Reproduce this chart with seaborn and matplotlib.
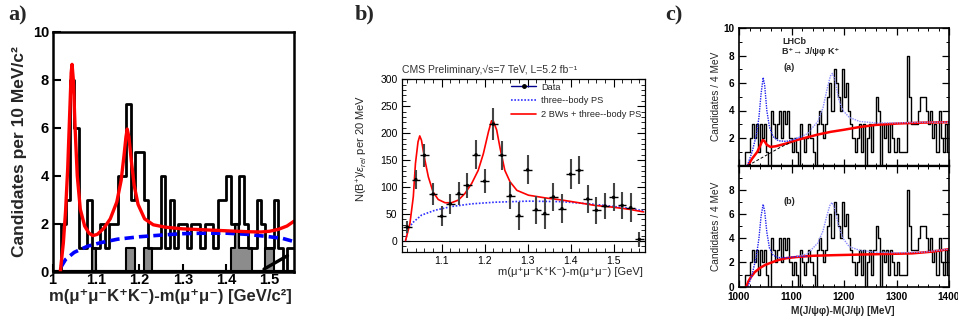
import numpy as np
import matplotlib
matplotlib.use("Agg")
import matplotlib.pyplot as plt
from matplotlib.lines import Line2D
from matplotlib.ticker import MultipleLocator
import seaborn as sns

# ---------------- data: panel a (CDF) ----------------
a_edges = [round(1.00 + 0.01 * i, 2) for i in range(57)]          # 1.00 .. 1.56 GeV
a_total = [0, 0,
           2, 3, 8, 6, 1, 1, 3, 1, 1, 2,
           1, 2, 2, 4, 4, 7, 3, 5, 5, 3,
           1, 1, 1, 4, 1, 3, 1, 2, 2, 1,
           2, 2, 1, 2, 2, 1, 3, 3, 4, 2,
           2, 4, 2, 1, 1, 3, 2, 1, 1, 3,
           1, 0, 1, 1]
a_gray = [0, 0,
          0, 0, 0, 0, 0, 0, 0, 1, 0, 0,
          0, 0, 0, 0, 0, 1, 1, 0, 0, 1,
          1, 0, 0, 0, 0, 0, 0, 0, 0, 0,
          0, 0, 0, 0, 0, 0, 0, 0, 0, 1,
          2, 1, 1, 1, 0, 0, 0, 1, 1, 0,
          0, 0, 0, 0]
a_fit_x = [1.018, 1.025, 1.030, 1.035, 1.040, 1.043, 1.045, 1.048, 1.052, 1.057,
           1.064, 1.074, 1.084, 1.093, 1.103, 1.118, 1.133, 1.148, 1.158, 1.165,
           1.169, 1.172, 1.176, 1.181, 1.188, 1.197, 1.212, 1.232, 1.26, 1.30,
           1.35, 1.40, 1.45, 1.48, 1.50, 1.52, 1.54, 1.556]
a_fit_y = [0.0, 1.2, 2.5, 4.3, 6.8, 8.3, 8.65, 8.0, 6.0, 4.0,
           2.6, 1.9, 1.6, 1.5, 1.55, 1.8, 2.2, 2.9, 3.8, 4.9,
           5.6, 5.95, 5.6, 4.7, 3.6, 2.8, 2.2, 1.95, 1.85, 1.78,
           1.74, 1.70, 1.66, 1.65, 1.68, 1.76, 1.90, 2.10]
a_ps_x = [1.02, 1.03, 1.05, 1.08, 1.11, 1.15, 1.20, 1.25, 1.30, 1.35, 1.40, 1.45, 1.50, 1.53, 1.556]
a_ps_y = [0.2, 0.5, 0.8, 1.05, 1.2, 1.35, 1.45, 1.52, 1.58, 1.6, 1.6, 1.55, 1.45, 1.38, 1.25]
a_bg_x = [1.487, 1.514, 1.541]
a_bg_y = [0.1, 0.38, 0.66]

# ---------------- data: panel b (CMS) ----------------
b_x = [1.02, 1.04, 1.06, 1.08, 1.10, 1.12, 1.14, 1.16, 1.18, 1.20, 1.22, 1.24, 1.26, 1.28,
       1.30, 1.32, 1.34, 1.36, 1.38, 1.40, 1.42, 1.44, 1.46, 1.48, 1.50, 1.52, 1.54, 1.56]
b_y = [26, 114, 159, 87, 46, 69, 88, 103, 160, 111, 217, 159, 84, 47,
       132, 58, 51, 82, 60, 124, 131, 78, 57, 65, 81, 66, 62, 3]
b_err = [11, 18, 21, 20, 19, 19, 21, 24, 27, 22, 29, 27, 25, 26,
         27, 26, 28, 26, 27, 28, 26, 26, 25, 25, 26, 25, 27, 14]
b_fit_x = [1.016, 1.026, 1.034, 1.039, 1.045, 1.049, 1.053, 1.061, 1.069, 1.080, 1.092,
           1.108, 1.123, 1.139, 1.154, 1.170, 1.185, 1.197, 1.209, 1.216, 1.220, 1.228,
           1.236, 1.247, 1.259, 1.275, 1.302, 1.341, 1.380, 1.419, 1.457, 1.496, 1.535, 1.570]
b_fit_y = [1, 32, 82, 144, 184, 195, 187, 150, 119, 91, 77,
           71, 71, 76, 88, 107, 131, 162, 203, 223, 223, 206,
           172, 131, 110, 94, 85, 80, 76, 71, 66, 63, 59, 54]
b_ps_x = [1.016, 1.022, 1.034, 1.053, 1.084, 1.123, 1.170, 1.224, 1.302, 1.380, 1.457, 1.535, 1.570]
b_ps_y = [1, 23, 35, 48, 57, 64, 69, 72, 74, 73, 68, 61, 56]

# ---------------- data: panel c (LHCb) ----------------
c_edges = list(range(1000, 1404, 4))                               # 1000 .. 1400 MeV
c_counts = [0, 0, 0, 1, 1, 2, 3, 2, 3, 1,
            3, 2, 3, 1, 0, 4, 3, 2, 3, 4,
            2, 4, 3, 4, 2, 1, 2, 1, 0, 3,
            2, 1, 2, 3, 2, 1, 0, 3, 4, 3,
            2, 3, 5, 6, 4, 7, 6, 5, 4, 7,
            5, 6, 4, 3, 2, 1, 2, 3, 1, 3,
            0, 2, 3, 1, 3, 5, 4, 0, 3, 2,
            3, 1, 3, 2, 1, 2, 1, 1, 1, 1,
            8, 5, 3, 3, 3, 4, 5, 5, 5, 4,
            3, 4, 2, 3, 1, 4, 2, 1, 3, 1]
ca_blue1_x = [1016, 1025, 1033, 1038, 1042, 1046, 1049, 1053, 1058, 1065, 1075, 1090, 1105, 1120]
ca_blue1_y = [0.0, 1.0, 2.2, 3.5, 5.2, 6.4, 5.8, 4.0, 2.8, 2.1, 1.8, 1.75, 1.9, 2.1]
ca_blue2_x = [1105, 1130, 1150, 1160, 1168, 1174, 1178, 1183, 1190, 1198, 1210, 1230, 1260, 1300, 1350, 1400]
ca_blue2_y = [1.9, 2.3, 3.2, 4.2, 5.6, 6.5, 6.7, 6.2, 4.8, 4.0, 3.5, 3.2, 3.1, 3.1, 3.15, 3.15]
ca_red_x = [1017, 1025, 1035, 1041, 1045, 1048, 1053, 1060, 1070, 1090, 1110, 1130, 1150,
            1175, 1200, 1230, 1260, 1300, 1350, 1400]
ca_red_y = [0.0, 0.5, 1.0, 1.5, 1.85, 1.8, 1.5, 1.35, 1.4, 1.6, 1.85, 2.05, 2.25,
            2.45, 2.6, 2.8, 2.95, 3.05, 3.12, 3.15]
ca_bg_x = [1017, 1050, 1080, 1100]
ca_bg_y = [0.0, 0.7, 1.35, 1.7]
cb_blue1_x = [1017, 1025, 1033, 1038, 1042, 1046, 1049, 1053, 1058, 1065, 1075, 1090, 1110, 1130]
cb_blue1_y = [0.0, 1.0, 2.5, 4.0, 5.8, 6.8, 6.2, 4.5, 3.2, 2.6, 2.4, 2.4, 2.5, 2.5]
cb_blue2_x = [1110, 1130, 1150, 1160, 1167, 1173, 1177, 1182, 1190, 1198, 1210, 1230, 1260, 1300, 1350, 1400]
cb_blue2_y = [2.5, 2.7, 3.6, 4.6, 5.8, 6.7, 6.95, 6.5, 5.0, 4.0, 3.3, 3.0, 2.85, 2.8, 2.85, 3.1]
cb_red_x = [1014, 1018, 1022, 1030, 1040, 1050, 1062, 1075, 1090, 1110, 1140, 1180, 1230,
            1280, 1330, 1370, 1400]
cb_red_y = [0.0, 0.45, 0.75, 1.2, 1.55, 1.8, 2.0, 2.2, 2.35, 2.45, 2.55, 2.6, 2.65,
            2.7, 2.75, 2.9, 3.1]

# ---------------- figure ----------------
sns.set_theme(style="white")
plt.rcParams['font.family'] = ['Liberation Sans', 'DejaVu Sans']
plt.rcParams['mathtext.fontset'] = 'custom'
plt.rcParams['mathtext.rm'] = 'Liberation Sans'
plt.rcParams['mathtext.it'] = 'Liberation Sans:italic'
plt.rcParams['axes.edgecolor'] = 'black'

W, H = 958, 324
fig = plt.figure(figsize=(W / 100, H / 100), dpi=100)


def rect(l, t, r, b):
    return [l / W, 1 - b / H, (r - l) / W, (b - t) / H]


def ftext(x, y, s, **kw):
    fig.text(x / W, 1 - y / H, s, **kw)


def centers(edges):
    e = np.asarray(edges, dtype=float)
    return (e[:-1] + e[1:]) / 2


# ===== panel a =====
axa = fig.add_axes(rect(52.5, 32, 294, 271.5))
ac = centers(a_edges)
sns.histplot(x=ac, weights=a_gray, bins=a_edges, element="step", fill=True,
             color="#8c8c8c", alpha=1.0, edgecolor="black", linewidth=1.5, ax=axa)
sns.histplot(x=ac, weights=a_total, bins=a_edges, element="step", fill=False,
             color="black", linewidth=2.0, ax=axa)
sns.lineplot(x=a_ps_x, y=a_ps_y, ax=axa, color="#0000ff", linewidth=2.6,
             linestyle=(0, (2.6, 1.4)), sort=False, estimator=None)
sns.lineplot(x=a_fit_x, y=a_fit_y, ax=axa, color="#ff0000", linewidth=2.4,
             sort=False, estimator=None)
sns.lineplot(x=a_bg_x, y=a_bg_y, ax=axa, color="black", linewidth=2.4,
             sort=False, estimator=None)
axa.set_xlim(1.0, 1.556)
axa.set_ylim(0, 10)
axa.set_xticks([1.0, 1.1, 1.2, 1.3, 1.4, 1.5])
axa.set_xticklabels(["1", "1.1", "1.2", "1.3", "1.4", "1.5"])
axa.set_yticks([0, 2, 4, 6, 8, 10])
axa.set_yticklabels(["0", "2", "4", "6", "8", "10"])
axa.tick_params(direction="in", length=6, width=1.5, labelsize=10.5,
                bottom=True, left=True, colors="black")
axa.tick_params(axis="x", pad=1)
axa.tick_params(axis="y", pad=2.5)
for lbl in axa.get_xticklabels() + axa.get_yticklabels():
    lbl.set_fontweight("bold")
axa.set_xlabel("")
axa.set_ylabel("")
for s in axa.spines.values():
    s.set_linewidth(1.8)
ftext(20, 152, "Candidates per 10 MeV/c²", rotation=90, ha="center", va="center",
      fontsize=12.5, fontweight="bold")
ftext(170, 297, "m(μ⁺μ⁻K⁺K⁻)-m(μ⁺μ⁻) [GeV/c²]", ha="center", va="center",
      fontsize=12, fontweight="bold")
ftext(8, 15, "a)", ha="left", va="center", fontsize=16, fontweight="bold",
      family=["Liberation Serif", "DejaVu Serif"])

# ===== panel b =====
axb = fig.add_axes(rect(401.7, 79.3, 644.5, 251.8))
axb.axhline(0, color="black", linewidth=0.8)
sns.lineplot(x=b_ps_x, y=b_ps_y, ax=axb, color="#3030ff", linewidth=1.2,
             linestyle=(0, (1, 1)), sort=False, estimator=None)
sns.lineplot(x=b_fit_x, y=b_fit_y, ax=axb, color="#ff0000", linewidth=1.2,
             sort=False, estimator=None)
axb.errorbar(b_x, b_y, yerr=b_err, fmt="none", ecolor="#444444", elinewidth=1.5, capsize=0)
axb.errorbar(b_x, b_y, xerr=0.01, fmt="none", ecolor="black", elinewidth=1.0, capsize=0)
sns.scatterplot(x=b_x, y=b_y, ax=axb, color="black", s=6, edgecolor="none", zorder=5)
axb.set_xlim(1.007, 1.572)
axb.set_ylim(-20, 300)
axb.set_xticks([1.1, 1.2, 1.3, 1.4, 1.5])
axb.set_yticks([0, 50, 100, 150, 200, 250, 300])
axb.xaxis.set_minor_locator(MultipleLocator(0.02))
axb.yaxis.set_minor_locator(MultipleLocator(10))
axb.tick_params(which="both", direction="in", top=True, right=True, bottom=True, left=True,
                labelsize=7.5, colors="black")
axb.tick_params(which="major", length=6, width=0.8, pad=3)
axb.tick_params(which="minor", length=3, width=0.6)
axb.set_xlabel("")
axb.set_ylabel("")
for s in axb.spines.values():
    s.set_linewidth(0.9)
handles = [Line2D([], [], color="#00008b", lw=1.0, marker="o", ms=2.5, mfc="black", mec="black"),
           Line2D([], [], color="#3030ff", lw=1.2, linestyle=(0, (1, 1))),
           Line2D([], [], color="#ff0000", lw=1.2)]
axb.legend(handles, ["Data", "three--body PS", "2 BWs + three--body PS"],
           loc="upper left", bbox_to_anchor=((511 - 401.7) / 242.8, 1 - (82.5 - 79.3) / 172.5),
           frameon=False, fontsize=6.7, borderpad=0, borderaxespad=0, handlelength=2.7,
           handletextpad=0.5, labelspacing=0.5)
ftext(402, 70, "CMS Preliminary,√s=7 TeV, L=5.2 fb⁻¹", ha="left", va="center",
      fontsize=7.5, color="#333333")
ftext(362, 148, r"N(B$^{+}$)/$\varepsilon_{rel}$ per 20 MeV", rotation=90, ha="center",
      va="center", fontsize=8)
ftext(643, 272, "m(μ⁺μ⁻K⁺K⁻)-m(μ⁺μ⁻) [GeV]", ha="right", va="center", fontsize=8)
ftext(355, 14, "b)", ha="left", va="center", fontsize=16, fontweight="bold",
      family=["Liberation Serif", "DejaVu Serif"])

# ===== panel c =====
axc1 = fig.add_axes(rect(739, 28, 949, 165.5))
axc2 = fig.add_axes(rect(739, 165.5, 949, 286.7))
cc = centers(c_edges)
panels = [
    (axc1, ca_blue1_x, ca_blue1_y, ca_blue2_x, ca_blue2_y, ca_red_x, ca_red_y),
    (axc2, cb_blue1_x, cb_blue1_y, cb_blue2_x, cb_blue2_y, cb_red_x, cb_red_y),
]
for ax, b1x, b1y, b2x, b2y, rx, ry in panels:
    sns.histplot(x=cc, weights=c_counts, bins=c_edges, element="step", fill=False,
                 color="black", linewidth=1.0, ax=ax)
    sns.lineplot(x=rx, y=ry, ax=ax, color="#ff0000", linewidth=1.8, sort=False, estimator=None)
    sns.lineplot(x=b1x, y=b1y, ax=ax, color="#2020ee", linewidth=1.0,
                 linestyle=(0, (1, 0.8)), sort=False, estimator=None)
    sns.lineplot(x=b2x, y=b2y, ax=ax, color="#8a8aff", linewidth=1.0,
                 linestyle=(0, (1, 0.8)), sort=False, estimator=None)
    ax.set_xlim(1000, 1400)
    ax.set_ylim(0, 10)
    ax.xaxis.set_minor_locator(MultipleLocator(20))
    ax.yaxis.set_minor_locator(MultipleLocator(1))
    ax.tick_params(which="both", direction="in", top=True, right=True, bottom=True, left=True,
                   labelsize=7.2, colors="black")
    ax.tick_params(which="major", length=5, width=0.9, pad=3.5)
    ax.tick_params(which="minor", length=2.5, width=0.7)
    ax.set_xlabel("")
    ax.set_ylabel("")
    for s in ax.spines.values():
        s.set_linewidth(1.2)
sns.lineplot(x=ca_bg_x, y=ca_bg_y, ax=axc1, color="black", linewidth=0.7,
             linestyle=(0, (3, 2)), sort=False, estimator=None)
axc1.set_xticks([1000, 1100, 1200, 1300, 1400])
axc1.set_xticklabels([])
axc1.set_yticks([2, 4, 6, 8, 10])
axc2.set_xticks([1000, 1100, 1200, 1300, 1400])
axc2.set_yticks([0, 2, 4, 6, 8])
for ax in (axc1, axc2):
    for lbl in ax.get_xticklabels() + ax.get_yticklabels():
        lbl.set_fontweight("bold")
axc1.spines["bottom"].set_linewidth(1.6)
axc2.spines["top"].set_linewidth(1.6)
ftext(782, 41, "LHCb", ha="left", va="center", fontsize=6.5, fontweight="bold")
ftext(782, 52, "B⁺→ J/ψφ K⁺", ha="left", va="center", fontsize=6.5, fontweight="bold")
ftext(783, 68, "(a)", ha="left", va="center", fontsize=6.5, fontweight="bold")
ftext(783, 201, "(b)", ha="left", va="center", fontsize=6.5, fontweight="bold")
ftext(716, 96, "Candidates / 4 MeV", rotation=90, ha="center", va="center", fontsize=7.3)
ftext(716, 226, "Candidates / 4 MeV", rotation=90, ha="center", va="center", fontsize=7.3)
ftext(843, 311, "M(J/ψφ)-M(J/ψ) [MeV]", ha="center", va="center", fontsize=7.3,
      fontweight="bold")
ftext(665, 15, "c)", ha="left", va="center", fontsize=16, fontweight="bold",
      family=["Liberation Serif", "DejaVu Serif"])

fig.savefig("out.png", dpi=100)
